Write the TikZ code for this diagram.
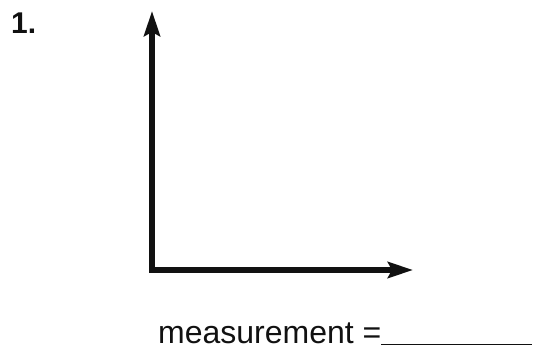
\documentclass[tikz,border=0pt]{standalone}
\usepackage{fontspec}
\setmainfont{Liberation Sans}
\usepackage{tikz}
\usetikzlibrary{arrows.meta,positioning}
\usepackage{xcolor}
\definecolor{ink}{HTML}{111111}
\tikzset{
  ray/.style={{Stealth[length=25pt,width=16pt,inset=4pt]}-{Stealth[length=25pt,width=16pt,inset=4pt]},line width=5.5pt,draw=ink,line join=miter},
  number/.style={font=\fontsize{30}{32}\selectfont\bfseries,text=ink,inner sep=0pt},
  answer/.style={font=\fontsize{32}{34}\selectfont,text=ink,inner sep=0pt,text depth=0pt}
}

\begin{document}
\begin{tikzpicture}[x=1pt,y=1pt]
\useasboundingbox (0,0) rectangle (538,349);
\node[number,anchor=base west] (num) at (11,316) {1.};

\coordinate (vertex) at (152,79);
\coordinate (uptip) at (152,338);
\coordinate (righttip) at (413,79);
\draw[ray] (uptip) -- (vertex) -- (righttip);

\node[answer,anchor=base west] (meas) at (158,6) {measurement =\underline{\hspace*{151pt}}};
\end{tikzpicture}
\end{document}
